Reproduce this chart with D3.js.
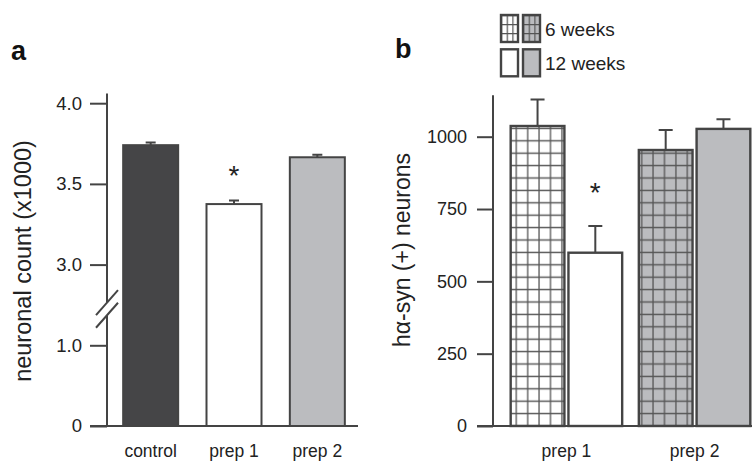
<!DOCTYPE html>
<html>
<head>
<meta charset="utf-8">
<script src="https://cdn.jsdelivr.net/npm/d3@7"></script>
<style>
  body { margin: 0; background: #fff }
  svg { display: block }
</style>
</head>
<body>
<script>
// Data: panel a
const groupsA = ["control", "prep 1", "prep 2"]
const countsA = [3.74, 3.375, 3.665]
const errorsA = [0.016, 0.022, 0.016]
const starsA = [false, true, false]
const ticksA = [0, 1, 3, 3.5, 4]

// Data: panel b
const groupsB = ["prep 1", "prep 2"]
const weeksB = ["6 weeks", "12 weeks"]
const week6 = [1037, 954]
const week6err = [92, 69]
const week12 = [599, 1027]
const week12err = [92, 33]
const starsB = [[false, true], [false, false]]
const ticksB = [0, 250, 500, 750, 1000]

// Styles
const font = "'Liberation Sans', Arial, Helvetica, sans-serif"
const ink = "#222"
const line = "#444"
const dark = "#454547"
const grey = "#bbbcbf"

// Create SVG
const svg = d3.select("body").append("svg")
  .attr("width", 752)
  .attr("height", 461)
  .attr("font-family", font)
  .attr("fill", ink)

// Hatch patterns
const defs = svg.append("defs")
function hatch(id, w, h, fill, x0, y0) {
  const p = defs.append("pattern")
    .attr("id", id)
    .attr("patternUnits", "userSpaceOnUse")
    .attr("x", x0 - w / 2)
    .attr("y", y0 - h / 2)
    .attr("width", w)
    .attr("height", h)
  p.append("rect").attr("width", w).attr("height", h).attr("fill", fill)
  p.append("path")
    .attr("d", `M0,${h / 2}H${w}M${w / 2},0V${h}`)
    .attr("stroke", "#555")
    .attr("stroke-width", 1.3)
}
function smallHatch(id, fill) {
  const p = defs.append("pattern")
    .attr("id", id)
    .attr("patternUnits", "objectBoundingBox")
    .attr("width", 1 / 3)
    .attr("height", 1 / 3)
  p.append("rect").attr("width", 20).attr("height", 20).attr("fill", fill)
  p.append("path")
    .attr("d", "M0,0H20M0,0V20")
    .attr("stroke", "#555")
    .attr("stroke-width", 2.4)
}
smallHatch("legend-white", "#fff")
smallHatch("legend-grey", grey)

// ---------- Panel a ----------
const yA = d3.scaleLinear().domain([0, 1, 3, 4]).range([426, 426 - 80.7, 426 - 2 * 80.7, 426 - 4 * 80.7])
const xA = d3.scaleBand().domain(groupsA).range([109, 359]).paddingInner(0.34).paddingOuter(0.17)
const fillsA = [dark, "#fff", grey]
const axisXA = 107

svg.append("text")
  .attr("x", 11)
  .attr("y", 60)
  .attr("font-size", 27)
  .attr("font-weight", "bold")
  .attr("fill", "#111")
  .text("a")

// Left axis with ticks
const gA = svg.append("g")
  .attr("transform", `translate(${axisXA},0)`)
  .call(d3.axisLeft(yA).tickValues(ticksA).tickFormat(d => d ? d3.format(".1f")(d) : "0").tickSize(17).tickPadding(8))
  .attr("font-family", font)
gA.select(".domain").remove()
gA.selectAll(".tick line").attr("stroke", line).attr("stroke-width", 2)
gA.selectAll(".tick text").attr("fill", ink).attr("font-size", 18.5)

// Axis line with a break between 1.0 and 3.0
const breakMid = (yA(1) + yA(3)) / 2 + 4
svg.append("path")
  .attr("d", `M${axisXA},${yA(4.06)}V${breakMid - 6.5}M${axisXA},${breakMid + 6.5}V${yA(0) + 1}`)
  .attr("stroke", line)
  .attr("stroke-width", 2)
  .attr("fill", "none")
svg.append("g")
  .selectAll("path")
  .data([-6.3, 6.3])
  .join("path")
  .attr("d", d => `M${axisXA - 11},${breakMid + d + 12.5}L${axisXA + 11},${breakMid + d - 12.5}`)
  .attr("stroke", line)
  .attr("stroke-width", 2)
svg.append("path")
  .attr("d", `M${axisXA - 17},${yA(0)}H358`)
  .attr("stroke", line)
  .attr("stroke-width", 2)

// Bars
svg.append("g")
  .selectAll("rect")
  .data(groupsA)
  .join("rect")
  .attr("x", d => xA(d))
  .attr("y", (d, i) => yA(countsA[i]))
  .attr("width", xA.bandwidth())
  .attr("height", (d, i) => yA(0) - yA(countsA[i]))
  .attr("fill", (d, i) => fillsA[i])
  .attr("stroke", line)
  .attr("stroke-width", 2)

// Error bars
svg.append("g")
  .attr("stroke", line)
  .attr("stroke-width", 2)
  .selectAll("path")
  .data(groupsA)
  .join("path")
  .attr("fill", "none")
  .attr("d", (d, i) => {
    const cx = xA(d) + xA.bandwidth() / 2
    const top = yA(countsA[i] + errorsA[i])
    return `M${cx},${yA(countsA[i])}V${top}M${cx - 5},${top}H${cx + 5}`
  })

// Significance stars
svg.append("g")
  .selectAll("text")
  .data(groupsA.filter((d, i) => starsA[i]))
  .join("text")
  .attr("x", d => xA(d) + xA.bandwidth() / 2)
  .attr("y", d => yA(countsA[groupsA.indexOf(d)] + errorsA[groupsA.indexOf(d)]) - 16)
  .attr("text-anchor", "middle")
  .attr("font-size", 28)
  .text("*")

// Category labels
svg.append("g")
  .selectAll("text")
  .data(groupsA)
  .join("text")
  .attr("x", d => xA(d) + xA.bandwidth() / 2)
  .attr("y", 457)
  .attr("text-anchor", "middle")
  .attr("font-size", 17.5)
  .text(d => d)

svg.append("text")
  .attr("transform", "translate(31,261) rotate(-90)")
  .attr("text-anchor", "middle")
  .attr("font-size", 23.5)
  .text("neuronal count (x1000)")

// ---------- Panel b ----------
const yB = d3.scaleLinear().domain([0, 1000]).range([426, 136.7])
const x0 = d3.scaleBand().domain(groupsB).range([493, 768]).paddingInner(0.13).paddingOuter(0.138)
const x1 = d3.scaleBand().domain(weeksB).range([0, x0.bandwidth()]).paddingInner(0.07)
const axisXB = 493

hatch("hatch-white", 11.4, 12.4, "#fff", x0(groupsB[0]) + 5.6, yB(0))
hatch("hatch-grey", 11.4, 12.4, grey, x0(groupsB[0]) + 5.6, yB(0))

svg.append("text")
  .attr("x", 395)
  .attr("y", 58)
  .attr("font-size", 27)
  .attr("font-weight", "bold")
  .attr("fill", "#111")
  .text("b")

const gB = svg.append("g")
  .attr("transform", `translate(${axisXB},0)`)
  .call(d3.axisLeft(yB).tickValues(ticksB).tickFormat(d3.format("d")).tickSize(16).tickPadding(10))
  .attr("font-family", font)
gB.select(".domain").remove()
gB.selectAll(".tick line").attr("stroke", line).attr("stroke-width", 2)
gB.selectAll(".tick text").attr("fill", ink).attr("font-size", 18)

svg.append("path")
  .attr("d", `M${axisXB},${yB(1143)}V${yB(0) + 1}M${axisXB - 16},${yB(0)}H752`)
  .attr("stroke", line)
  .attr("stroke-width", 2)
  .attr("fill", "none")

// Grouped bars
const barsB = groupsB.flatMap((g, gi) => weeksB.map((w, wi) => ({
  group: g,
  week: w,
  value: wi ? week12[gi] : week6[gi],
  err: wi ? week12err[gi] : week6err[gi],
  star: starsB[gi][wi],
  fill: wi ? (gi ? grey : "#fff") : (gi ? "url(#hatch-grey)" : "url(#hatch-white)")
})))

svg.append("g")
  .selectAll("rect")
  .data(barsB)
  .join("rect")
  .attr("x", d => x0(d.group) + x1(d.week))
  .attr("y", d => yB(d.value))
  .attr("width", x1.bandwidth())
  .attr("height", d => yB(0) - yB(d.value))
  .attr("fill", d => d.fill)
  .attr("stroke", line)
  .attr("stroke-width", 2.4)

svg.append("g")
  .attr("stroke", line)
  .attr("stroke-width", 2)
  .selectAll("path")
  .data(barsB)
  .join("path")
  .attr("fill", "none")
  .attr("d", d => {
    const cx = x0(d.group) + x1(d.week) + x1.bandwidth() / 2
    const top = yB(d.value + d.err)
    return `M${cx},${yB(d.value)}V${top}M${cx - 7},${top}H${cx + 7}`
  })

svg.append("g")
  .selectAll("text")
  .data(barsB.filter(d => d.star))
  .join("text")
  .attr("x", d => x0(d.group) + x1(d.week) + x1.bandwidth() / 2)
  .attr("y", d => yB(d.value + d.err) - 24)
  .attr("text-anchor", "middle")
  .attr("font-size", 28)
  .text("*")

svg.append("g")
  .selectAll("text")
  .data(groupsB)
  .join("text")
  .attr("x", d => x0(d) + x0.bandwidth() / 2)
  .attr("y", 457)
  .attr("text-anchor", "middle")
  .attr("font-size", 17.5)
  .text(d => d)

svg.append("text")
  .attr("transform", "translate(410,250) rotate(-90)")
  .attr("text-anchor", "middle")
  .attr("font-size", 23)
  .text("hα-syn (+) neurons")

// Legend
const legendFills = [["url(#legend-white)", "url(#legend-grey)"], ["#fff", grey]]
const legend = svg.append("g")
  .attr("transform", "translate(501,15)")
  .selectAll("g")
  .data(weeksB)
  .join("g")
  .attr("transform", (d, i) => `translate(0,${i * 34.3})`)
legend.selectAll("rect")
  .data((d, i) => legendFills[i])
  .join("rect")
  .attr("x", (d, i) => i * 22)
  .attr("width", 17)
  .attr("height", 27)
  .attr("fill", d => d)
  .attr("stroke", line)
  .attr("stroke-width", 2.4)
legend.append("text")
  .attr("x", 44)
  .attr("y", 20.5)
  .attr("font-size", 19)
  .text(d => d)
</script>
</body>
</html>
